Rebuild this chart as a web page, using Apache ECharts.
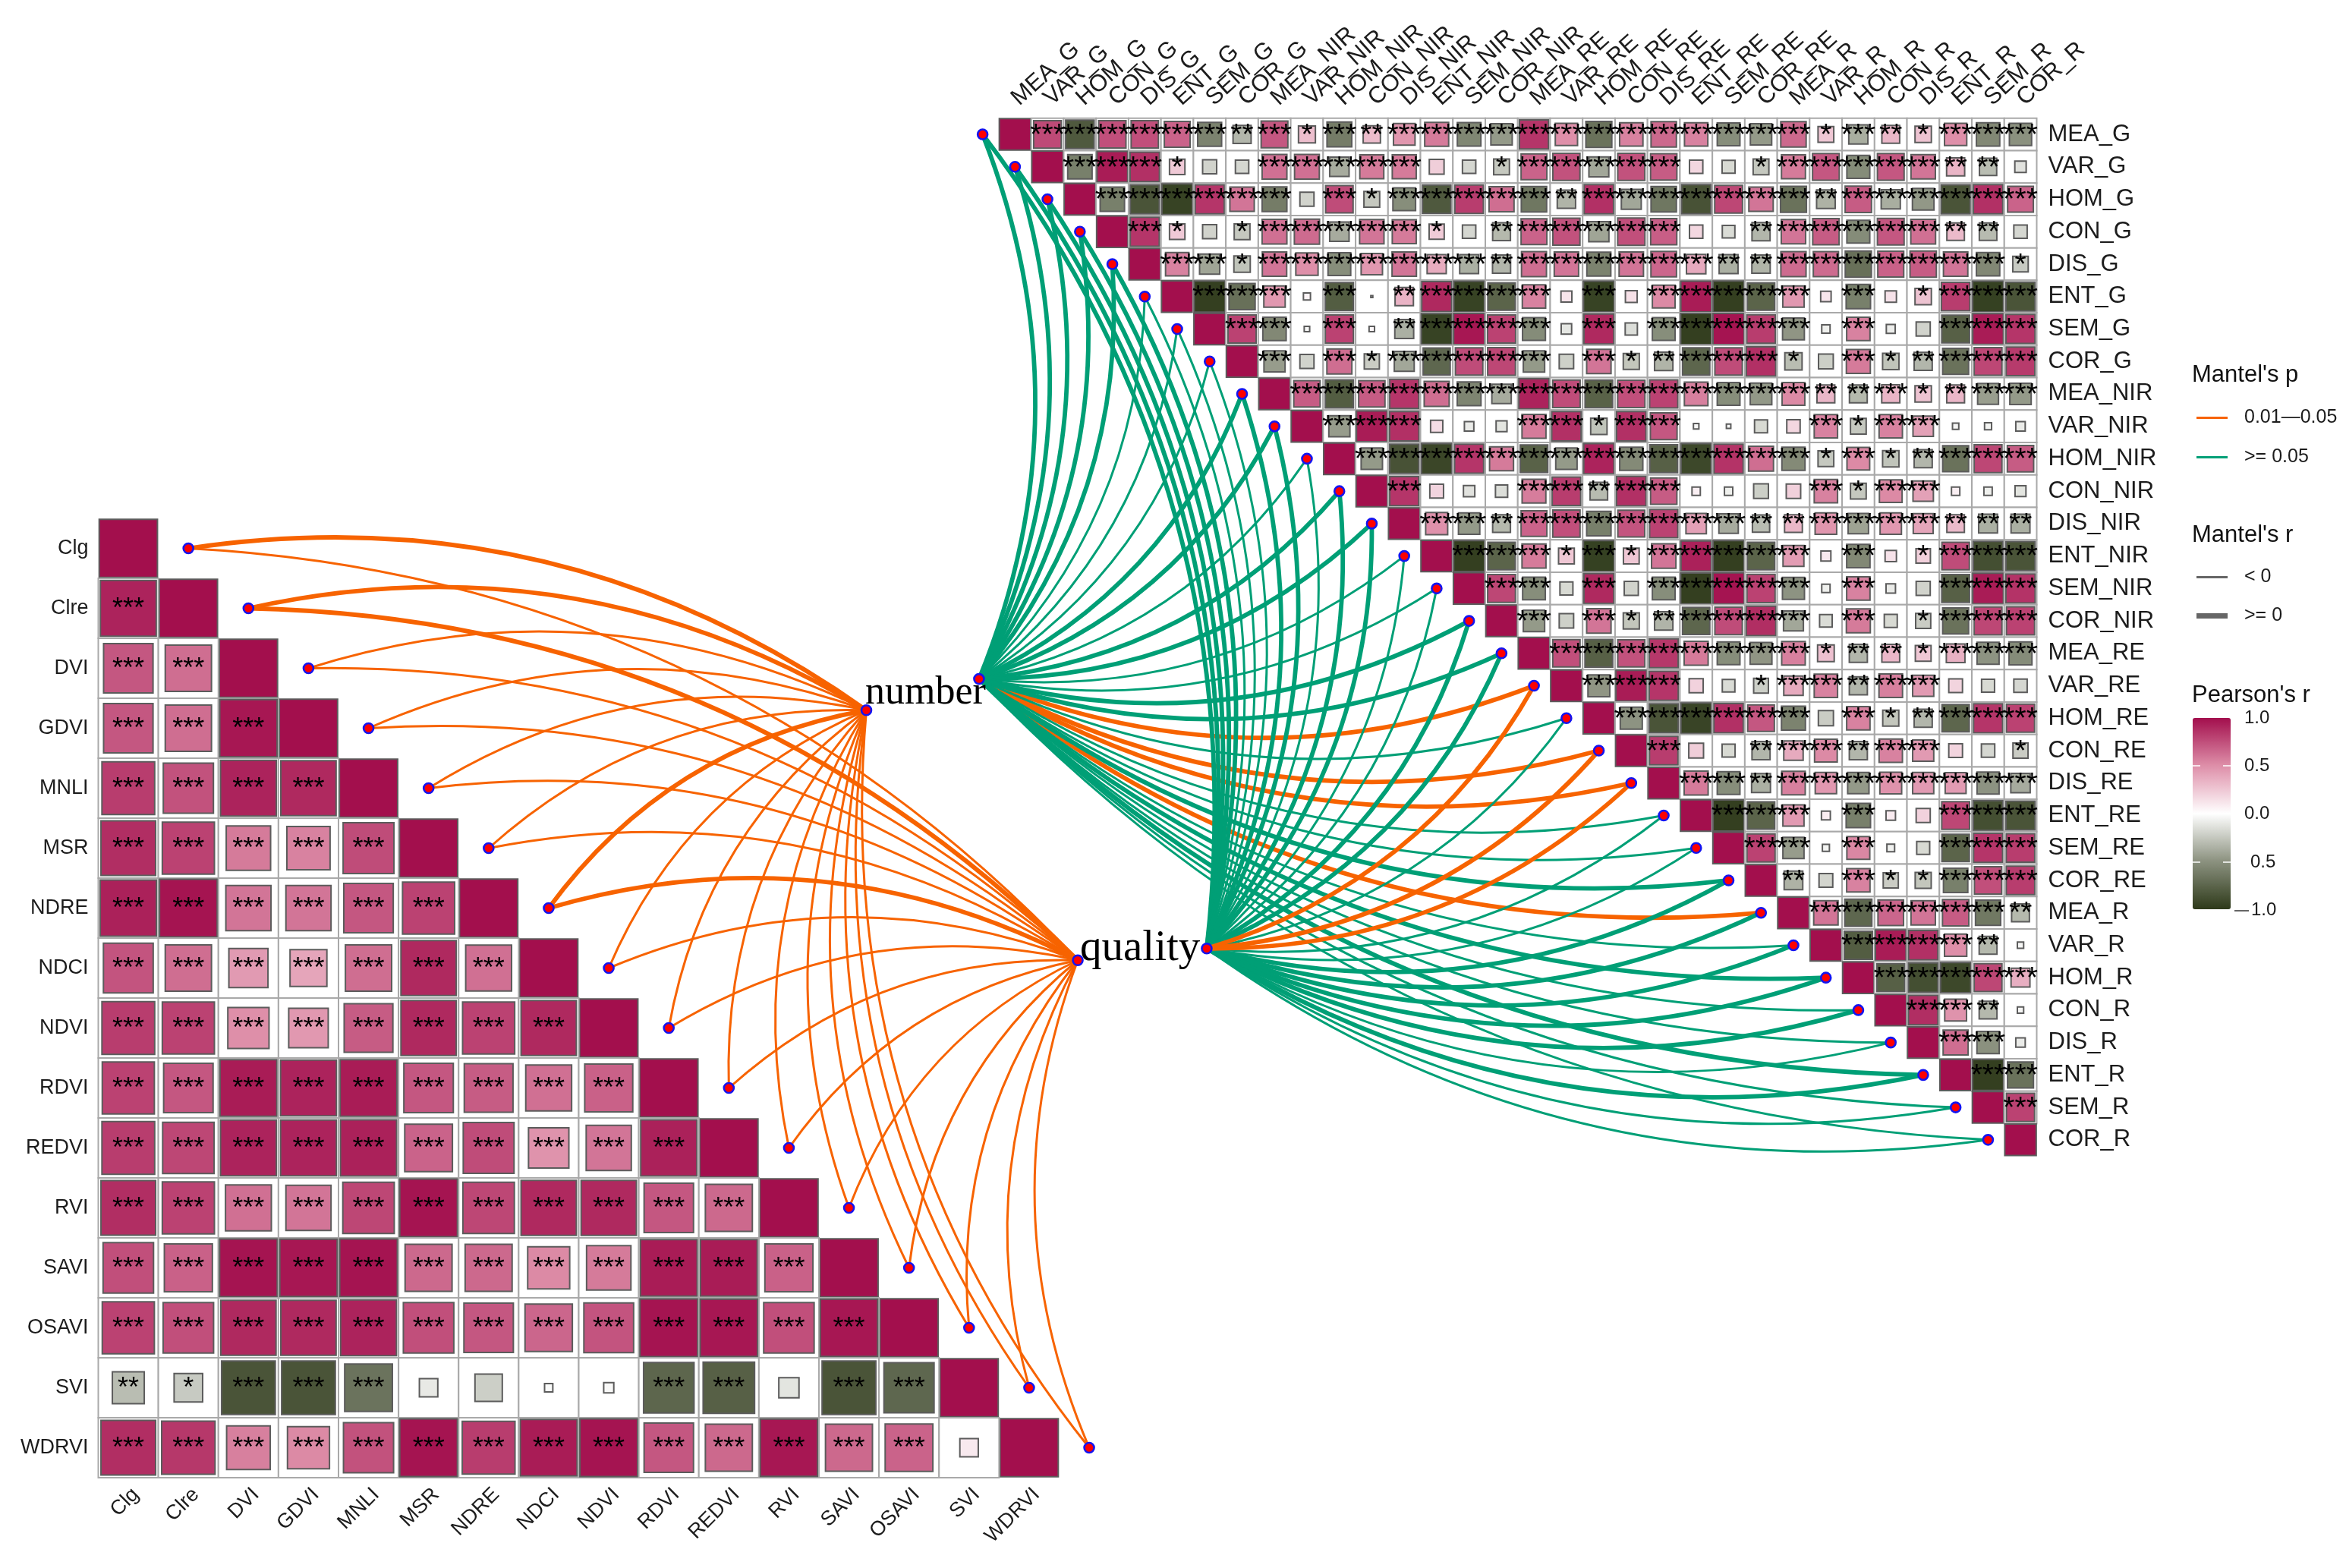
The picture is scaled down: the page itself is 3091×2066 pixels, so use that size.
<!DOCTYPE html>
<html><head><meta charset="utf-8">
<script src="https://cdn.jsdelivr.net/npm/echarts@6/dist/echarts.min.js"></script>
<style>html,body{margin:0;padding:0;background:#fff}#c{width:3091px;height:2066px}</style>
</head><body><div id="c"></div>
<script>
// ---------- categories ----------
const leftVars = ['Clg','Clre','DVI','GDVI','MNLI','MSR','NDRE','NDCI','NDVI','RDVI','REDVI','RVI','SAVI','OSAVI','SVI','WDRVI'];
const rightVars = ['MEA_G','VAR_G','HOM_G','CON_G','DIS_G','ENT_G','SEM_G','COR_G','MEA_NIR','VAR_NIR','HOM_NIR','CON_NIR','DIS_NIR','ENT_NIR','SEM_NIR','COR_NIR','MEA_RE','VAR_RE','HOM_RE','CON_RE','DIS_RE','ENT_RE','SEM_RE','COR_RE','MEA_R','VAR_R','HOM_R','CON_R','DIS_R','ENT_R','SEM_R','COR_R'];

// ---------- left matrix: Pearson r, row i, columns 0..i-1 ----------
const leftR = [
 [],
 [.92],
 [.72,.63],
 [.72,.63,.97],
 [.82,.74,.92,.9],
 [.88,.8,.58,.55,.76],
 [.93,.98,.6,.6,.72,.8],
 [.73,.63,.45,.4,.63,.9,.62],
 [.82,.8,.5,.46,.7,.9,.8,.9],
 [.8,.72,.95,.92,.95,.72,.7,.62,.68],
 [.82,.78,.92,.92,.93,.67,.76,.48,.6,.93],
 [.88,.8,.62,.6,.78,.98,.78,.9,.9,.72,.65],
 [.75,.68,.98,.97,.98,.65,.65,.52,.58,.95,.95,.68],
 [.8,.75,.9,.9,.92,.75,.72,.66,.73,.98,.97,.75,.97],
 [-.3,-.24,-.85,-.85,-.67,-.1,-.22,-.02,-.03,-.75,-.78,-.12,-.85,-.74],
 [.88,.84,.56,.52,.74,.98,.82,.95,.98,.72,.65,.97,.65,.67,.1]
];
const leftSig = ['','3','33','333','3333','33333','333333','3333333','33333333','333333333','3333333333','33333333333','333333333333','3333333333333','21333000033033','333333333333330'];

// ---------- right matrix: Pearson r, row i, columns i+1..31 ----------
const rightR = [
 [.77,-.82,.75,.75,.67,-.58,-.33,.72,.29,-.62,.3,.47,.58,-.56,-.46,.85,.5,-.68,.55,.65,.55,-.52,-.46,.65,.25,-.37,.32,.27,.5,-.55,-.5],
 [-.6,.95,.87,.24,-.2,-.18,.62,.62,-.38,.58,.58,.22,-.18,-.25,.67,.74,-.4,.74,.7,.18,-.17,-.25,.58,.72,-.53,.72,.6,.33,-.3,-.13],
 [-.6,-.85,-.95,.85,.6,-.62,-.2,.76,-.25,-.52,-.82,.82,.63,-.65,-.34,.87,-.4,-.65,-.86,.78,.6,-.68,-.35,.7,-.37,-.47,-.85,.87,.67],
 [.85,.24,-.2,-.25,.62,.64,-.38,.6,.58,.23,-.18,-.32,.67,.74,-.41,.75,.69,.18,-.16,-.33,.6,.7,-.53,.72,.62,.31,-.31,-.18],
 [.55,-.41,-.27,.6,.5,-.52,.46,.6,.37,-.36,-.33,.63,.6,-.58,.6,.66,.38,-.36,-.34,.64,.64,-.69,.68,.7,.6,-.55,-.24],
 [-.97,-.69,.46,.05,-.8,.004,.34,.9,-.95,-.76,.55,.12,-.95,.14,.52,.95,-.97,-.76,.46,.11,-.6,.13,.27,.82,-.96,-.85],
 [.8,-.55,-.03,.8,.03,-.36,-.95,.97,.8,-.53,-.11,.9,-.15,-.52,-.97,.98,.82,-.48,-.07,.55,-.08,-.2,-.78,.95,.85],
 [-.45,-.2,.63,-.23,-.4,-.74,.76,.78,-.46,-.21,.6,-.26,-.34,-.75,.76,.87,-.3,-.22,.58,-.27,-.33,-.68,.78,.83],
 [.7,-.8,.7,.85,.63,-.57,-.38,.92,.76,-.77,.75,.8,.56,-.52,-.47,.52,.32,-.32,.33,.27,.32,-.44,-.46],
 [-.45,.95,.87,.15,-.09,-.12,.58,.87,-.27,.87,.72,-.03,-.02,-.17,.18,.55,-.25,.55,.42,-.04,-.05,-.09],
 [-.46,-.86,-.93,.85,.58,-.77,-.46,.92,-.54,-.78,-.92,.86,.63,-.54,-.25,.52,-.27,-.33,-.68,.78,.7],
 [.85,.19,-.13,-.15,.57,.82,-.31,.87,.7,.07,-.07,-.22,.21,.55,-.25,.52,.42,.07,-.07,-.12],
 [.49,-.46,-.32,.67,.75,-.6,.73,.8,.42,-.38,-.3,.32,.47,-.42,.46,.4,.31,-.36,-.36],
 [-.97,-.76,.58,.25,-.96,.25,.6,.93,-.97,-.76,.44,.1,-.55,.13,.21,.76,-.88,-.85],
 [.78,-.52,-.17,.9,-.2,-.52,-.97,.98,.8,-.49,-.07,.55,-.09,-.2,-.78,.95,.86],
 [-.46,-.21,.6,-.26,-.34,-.75,.76,.88,-.4,-.16,.58,-.17,-.23,-.68,.78,.8],
 [.75,-.78,.74,.84,.58,-.52,-.48,.56,.28,-.33,.32,.25,.35,-.49,-.53],
 [-.48,.95,.85,.2,-.16,-.22,.38,.55,-.33,.56,.45,.19,-.17,-.18],
 [-.49,-.85,-.94,.87,.72,-.58,-.23,.55,-.26,-.33,-.75,.85,.8],
 [.82,.22,-.17,-.33,.38,.52,-.33,.55,.45,.19,-.18,-.23],
 [.58,-.52,-.36,.56,.46,-.46,.48,.45,.44,-.49,-.38],
 [-.97,-.76,.45,.08,-.6,.09,.2,.78,-.88,-.85],
 [.8,-.45,-.05,.53,-.06,-.17,-.76,.85,.82],
 [-.35,-.19,.55,-.23,-.26,-.6,.75,.82],
 [.6,-.74,.66,.6,.7,-.64,-.32],
 [-.8,.95,.87,.5,-.32,-.04],
 [-.78,-.88,-.92,.78,.36],
 [.88,.48,-.32,-.04],
 [.63,-.5,-.09],
 [-.97,-.68],
 [.8],
 []
];
const rightSig = [
 '3333332313233333333333331321333',
 '333100333330013333300133333220',
 '33333303133333233333332333333',
 '3101333331023333300233333220',
 '331333333323333332233333331',
 '33303023333030333330301333',
 '3303023333030333330300333',
 '303133333031233310312333',
 '33333333333333332231233',
 '3330003313300003133000',
 '333333333333331312333',
 '30003323300003133000',
 '3323333333223333222',
 '333131333330301333',
 '33030333330300333',
 '3031233330301333',
 '333333331221333',
 '33300133233000',
 '3333330312333',
 '300233233001',
 '33233333333',
 '3330300333',
 '330300333',
 '20311333',
 '3333332',
 '333320',
 '33333',
 '3320',
 '330',
 '33',
 '3',
 ''
];

// ---------- Mantel links: 1 = r >= 0 (thick), 0 = r < 0 (thin) ----------
const leftThickNumber  = [1,1,0,0,0,0,1,0,0,0,0,0,0,0,0,0];
const leftThickQuality = [0,1,0,0,0,0,1,0,0,0,0,0,0,0,0,0];
const rightThickNumber  = [1,1,1,1,1,0,0,0,1,1,0,1,1,0,0,1,1,1,0,1,1,0,0,1,1,0,1,0,0,1,0,0];
const rightThickQuality = [1,1,1,1,1,0,0,0,1,1,0,1,1,0,0,1,1,1,0,1,1,0,0,1,1,1,1,1,0,1,0,0];
// Mantel p class on the right: 1 = 0.01-0.05 (orange), 0 = >= 0.05 (green)
const rightOrangeNumber  = [0,0,0,0,0,0,0,0,0,0,0,0,0,0,0,0,0,1,0,1,1,0,0,0,1,0,0,0,0,0,0,0];
const rightOrangeQuality = [0,0,0,0,0,0,0,0,0,0,0,0,0,0,0,0,0,1,0,1,1,0,0,0,0,0,0,0,0,0,0,0];

// ---------- legend labels and colours ----------
const colorbarLabels = ['1.0','0.5','0.0','0.5','1.0'];
const rampColors = ['#2E3A1A','#8B917F','#FFFFFF','#DE8FA9','#A30F4D'];
const ORANGE = '#F76300', GREEN = '#009F76', P_ORANGE = '0.01\u20140.05', P_GREEN = '>= 0.05';

// ---------- layout (in cell units of each matrix, measured from its top-left corner) ----------
const anchors = {
  left:  {number:[12.79,3.2],  quality:[16.31,7.37]},
  right: {number:[-0.61,17.29], quality:[6.41,25.6]}
};
const SANS = '"Liberation Sans", Arial, sans-serif';
const SERIF = '"Liberation Serif", "Times New Roman", serif';

function unitPt(api,u,v){
  const o = api.coord([0,0]), s = api.size([1,1]);
  return [o[0]+(u-.5)*s[0], o[1]+(v-.5)*s[1]];
}
function cellData(names,R,upper){
  const d=[];
  names.forEach((_,i)=>{ d.push([i,i,1]);
    R[i].forEach((r,k)=>{ const j = upper? i+1+k : k; d.push([j,i,r]); });
  });
  return d;
}
function starData(names,S,upper){
  const d=[];
  names.forEach((_,i)=>{ (S[i]||'').split('').forEach((c,k)=>{
    const j = upper? i+1+k : k; if(+c>0) d.push([j,i,+c]); }); });
  return d;
}
function renderCell(p,api){
  const c=api.coord([api.value(0),api.value(1)]), s=api.size([1,1]), r=api.value(2);
  const side=Math.sqrt(Math.abs(r)), w=s[0]*side*.97, h=s[1]*side*.97, col=api.visual('color');
  const kids=[];
  if(api.value(0)!==api.value(1))
    kids.push({type:'rect',shape:{x:c[0]-s[0]/2,y:c[1]-s[1]/2,width:s[0],height:s[1]},style:{fill:'#fff',stroke:'#A9A9A9',lineWidth:2}});
  kids.push({type:'rect',shape:{x:c[0]-w/2,y:c[1]-h/2,width:w,height:h},style:{fill:col,stroke:'#5C5C5C',lineWidth:2}});
  return {type:'group',children:kids};
}
function starRenderer(fs){
  return function(p,api){
    const c=api.coord([api.value(0),api.value(1)]);
    return {type:'text',x:c[0],y:c[1]+2,style:{text:'*'.repeat(api.value(2)),fill:'#000',font:fs+'px '+SANS,align:'center',verticalAlign:'middle'}};
  };
}
function linkRenderer(side,stroke){
  return function(p,api){
    const i=api.value(0), env=api.value(1)?'quality':'number', thick=api.value(2);
    const a=side==='left'?unitPt(api,i+1.5,i+.5):unitPt(api,i-.5,i+.5);
    const b=unitPt(api,anchors[side][env][0],anchors[side][env][1]);
    const dx=b[0]-a[0], dy=b[1]-a[1], k=.2;
    return {type:'bezierCurve',shape:{x1:a[0],y1:a[1],x2:b[0],y2:b[1],cpx1:(a[0]+b[0])/2+k*dy,cpy1:(a[1]+b[1])/2-k*dx},
      style:{fill:'none',stroke:stroke,lineWidth:thick?5.8:3}};
  };
}
function nodeRenderer(side){
  return function(p,api){
    const i=api.value(0);
    let a;
    if(i>=100){ const e=anchors[side][i===100?'number':'quality']; a=unitPt(api,e[0],e[1]); }
    else a=side==='left'?unitPt(api,i+1.5,i+.5):unitPt(api,i-.5,i+.5);
    return {type:'circle',shape:{cx:a[0],cy:a[1],r:6.5},style:{fill:'#FF0000',stroke:'#1414F0',lineWidth:2.6}};
  };
}
function linkSeries(name,side,gi,stroke,data,z){
  return {type:'custom',name,xAxisIndex:gi,yAxisIndex:gi,data,z,silent:true,itemStyle:{color:stroke},
    encode:{x:0,y:1},renderItem:linkRenderer(side,stroke)};
}
const leftLinksN = leftVars.map((_,i)=>[i,0,leftThickNumber[i]]);
const leftLinksQ = leftVars.map((_,i)=>[i,1,leftThickQuality[i]]);
const rN = (o)=>rightVars.map((_,i)=>[i,0,rightThickNumber[i],rightOrangeNumber[i]]).filter(d=>d[3]===o);
const rQ = (o)=>rightVars.map((_,i)=>[i,1,rightThickQuality[i],rightOrangeQuality[i]]).filter(d=>d[3]===o);
const nodeIdx = (names)=>names.map((_,i)=>[i,0]).concat([[100,0],[101,0]]);

const axLabel={color:'#1c1c1c',fontFamily:SANS};
const option={
  animation:false,backgroundColor:'#fff',
  textStyle:{fontFamily:SANS},
  grid:[
    {left:129.5,top:683,width:1266,height:1264},
    {left:1316,top:155.7,width:1367.5,height:1367.5}
  ],
  xAxis:[
    {type:'category',gridIndex:0,data:leftVars,position:'bottom',axisLine:{show:false},axisTick:{show:false},splitLine:{show:false},
      axisLabel:{...axLabel,fontSize:27,rotate:45,interval:0,margin:28,padding:[0,-14,0,0]}},
    {type:'category',gridIndex:1,data:rightVars,position:'top',axisLine:{show:false},axisTick:{show:false},splitLine:{show:false},
      axisLabel:{...axLabel,fontSize:31,rotate:-42,interval:0,margin:22}}
  ],
  yAxis:[
    {type:'category',gridIndex:0,data:leftVars,inverse:true,position:'left',axisLine:{show:false},axisTick:{show:false},splitLine:{show:false},
      axisLabel:{...axLabel,fontSize:27,interval:0,margin:13,padding:[8,0,0,0]}},
    {type:'category',gridIndex:1,data:rightVars,inverse:true,position:'right',axisLine:{show:false},axisTick:{show:false},splitLine:{show:false},
      axisLabel:{...axLabel,fontSize:31,interval:0,margin:15,padding:[8,0,0,0]}}
  ],
  visualMap:[{type:'continuous',seriesIndex:[0,1],dimension:2,min:-1,max:1,inRange:{color:rampColors},
    show:true,calculable:false,hoverLink:false,left:2889,top:946,itemWidth:50,itemHeight:252,text:null,showLabel:false,textStyle:{fontSize:0},padding:0}],
  legend:[
    {orient:'vertical',left:2894,top:538,itemWidth:41,itemHeight:3,itemGap:27,selectedMode:false,padding:0,
      textStyle:{fontSize:25,color:'#1c1c1c',fontFamily:SANS,padding:[0,0,0,17]},
      data:[{name:P_ORANGE,icon:'rect'},{name:P_GREEN,icon:'rect'}]},
    {orient:'vertical',left:2894,top:748,itemWidth:41,itemHeight:3,selectedMode:false,padding:0,
      textStyle:{fontSize:25,color:'#1c1c1c',fontFamily:SANS,padding:[0,0,0,17]},data:[{name:'< 0',icon:'rect'}]},
    {orient:'vertical',left:2894,top:799,itemWidth:41,itemHeight:7,selectedMode:false,padding:0,
      textStyle:{fontSize:25,color:'#1c1c1c',fontFamily:SANS,padding:[0,0,0,17]},data:[{name:'>= 0',icon:'rect'}]}
  ],
  series:[
    {type:'custom',xAxisIndex:0,yAxisIndex:0,data:cellData(leftVars,leftR,false),z:2,silent:true,encode:{x:0,y:1},renderItem:renderCell},
    {type:'custom',xAxisIndex:1,yAxisIndex:1,data:cellData(rightVars,rightR,true),z:2,silent:true,encode:{x:0,y:1},renderItem:renderCell},
    {type:'custom',xAxisIndex:0,yAxisIndex:0,data:starData(leftVars,leftSig,false),z:3,silent:true,encode:{x:0,y:1},renderItem:starRenderer(36)},
    {type:'custom',xAxisIndex:1,yAxisIndex:1,data:starData(rightVars,rightSig,true),z:3,silent:true,encode:{x:0,y:1},renderItem:starRenderer(39)},
    linkSeries(P_ORANGE,'left',0,ORANGE,leftLinksN,4),
    linkSeries(P_ORANGE,'left',0,ORANGE,leftLinksQ,4),
    linkSeries(P_ORANGE,'right',1,ORANGE,rN(1),4),
    linkSeries(P_GREEN,'right',1,GREEN,rN(0),5),
    linkSeries(P_GREEN,'right',1,GREEN,rQ(0),6),
    linkSeries(P_ORANGE,'right',1,ORANGE,rQ(1),7),
    {type:'custom',xAxisIndex:0,yAxisIndex:0,data:nodeIdx(leftVars),z:8,silent:true,encode:{x:0,y:1},renderItem:nodeRenderer('left')},
    {type:'custom',xAxisIndex:1,yAxisIndex:1,data:nodeIdx(rightVars),z:8,silent:true,encode:{x:0,y:1},renderItem:nodeRenderer('right')},
    {type:'line',name:'< 0',data:[],xAxisIndex:0,yAxisIndex:0,itemStyle:{color:'#666'},lineStyle:{color:'#666'}},
    {type:'line',name:'>= 0',data:[],xAxisIndex:0,yAxisIndex:0,itemStyle:{color:'#666'},lineStyle:{color:'#666'}}
  ],
  graphic:{elements:[
    {type:'text',x:1140,y:939,z:20,style:{text:'number',font:'52px '+SERIF,fill:'#000',align:'left',verticalAlign:'bottom'}},
    {type:'text',x:1423,y:1279,z:20,style:{text:'quality',font:'57px '+SERIF,fill:'#000',align:'left',verticalAlign:'bottom'}},
    {type:'text',x:2888,y:494,z:20,style:{text:"Mantel's p",font:'31px '+SANS,fill:'#111',verticalAlign:'middle'}},
    {type:'text',x:2888,y:705,z:20,style:{text:"Mantel's r",font:'31px '+SANS,fill:'#111',verticalAlign:'middle'}},
    {type:'text',x:2888,y:916,z:20,style:{text:"Pearson's r",font:'31px '+SANS,fill:'#111',verticalAlign:'middle'}},
    {type:'text',x:2957,y:946,z:20,style:{text:colorbarLabels[0],font:'24px '+SANS,fill:'#1c1c1c',verticalAlign:'middle'}},
    {type:'text',x:2957,y:1009,z:20,style:{text:colorbarLabels[1],font:'24px '+SANS,fill:'#1c1c1c',verticalAlign:'middle'}},
    {type:'text',x:2957,y:1072,z:20,style:{text:colorbarLabels[2],font:'24px '+SANS,fill:'#1c1c1c',verticalAlign:'middle'}},
    {type:'text',x:2965,y:1136,z:20,style:{text:colorbarLabels[3],font:'24px '+SANS,fill:'#1c1c1c',verticalAlign:'middle'}},
    {type:'text',x:2966,y:1199,z:20,style:{text:colorbarLabels[4],font:'24px '+SANS,fill:'#1c1c1c',verticalAlign:'middle'}},
    {type:'line',z:20,shape:{x1:2944,y1:1200,x2:2963,y2:1200},style:{stroke:'#333',lineWidth:1.5}},
    {type:'line',z:20,shape:{x1:2889,y1:1009,x2:2899,y2:1009},style:{stroke:'#fff',lineWidth:1.5}},
    {type:'line',z:20,shape:{x1:2929,y1:1009,x2:2939,y2:1009},style:{stroke:'#fff',lineWidth:1.5}},
    {type:'line',z:20,shape:{x1:2889,y1:1072,x2:2899,y2:1072},style:{stroke:'#fff',lineWidth:1.5}},
    {type:'line',z:20,shape:{x1:2929,y1:1072,x2:2939,y2:1072},style:{stroke:'#fff',lineWidth:1.5}},
    {type:'line',z:20,shape:{x1:2889,y1:1136,x2:2899,y2:1136},style:{stroke:'#fff',lineWidth:1.5}},
    {type:'line',z:20,shape:{x1:2929,y1:1136,x2:2939,y2:1136},style:{stroke:'#fff',lineWidth:1.5}}
  ]}
};
const chart=echarts.init(document.getElementById('c'),null,{renderer:'canvas',width:3091,height:2066});
chart.setOption(option);
</script>
</body></html>
